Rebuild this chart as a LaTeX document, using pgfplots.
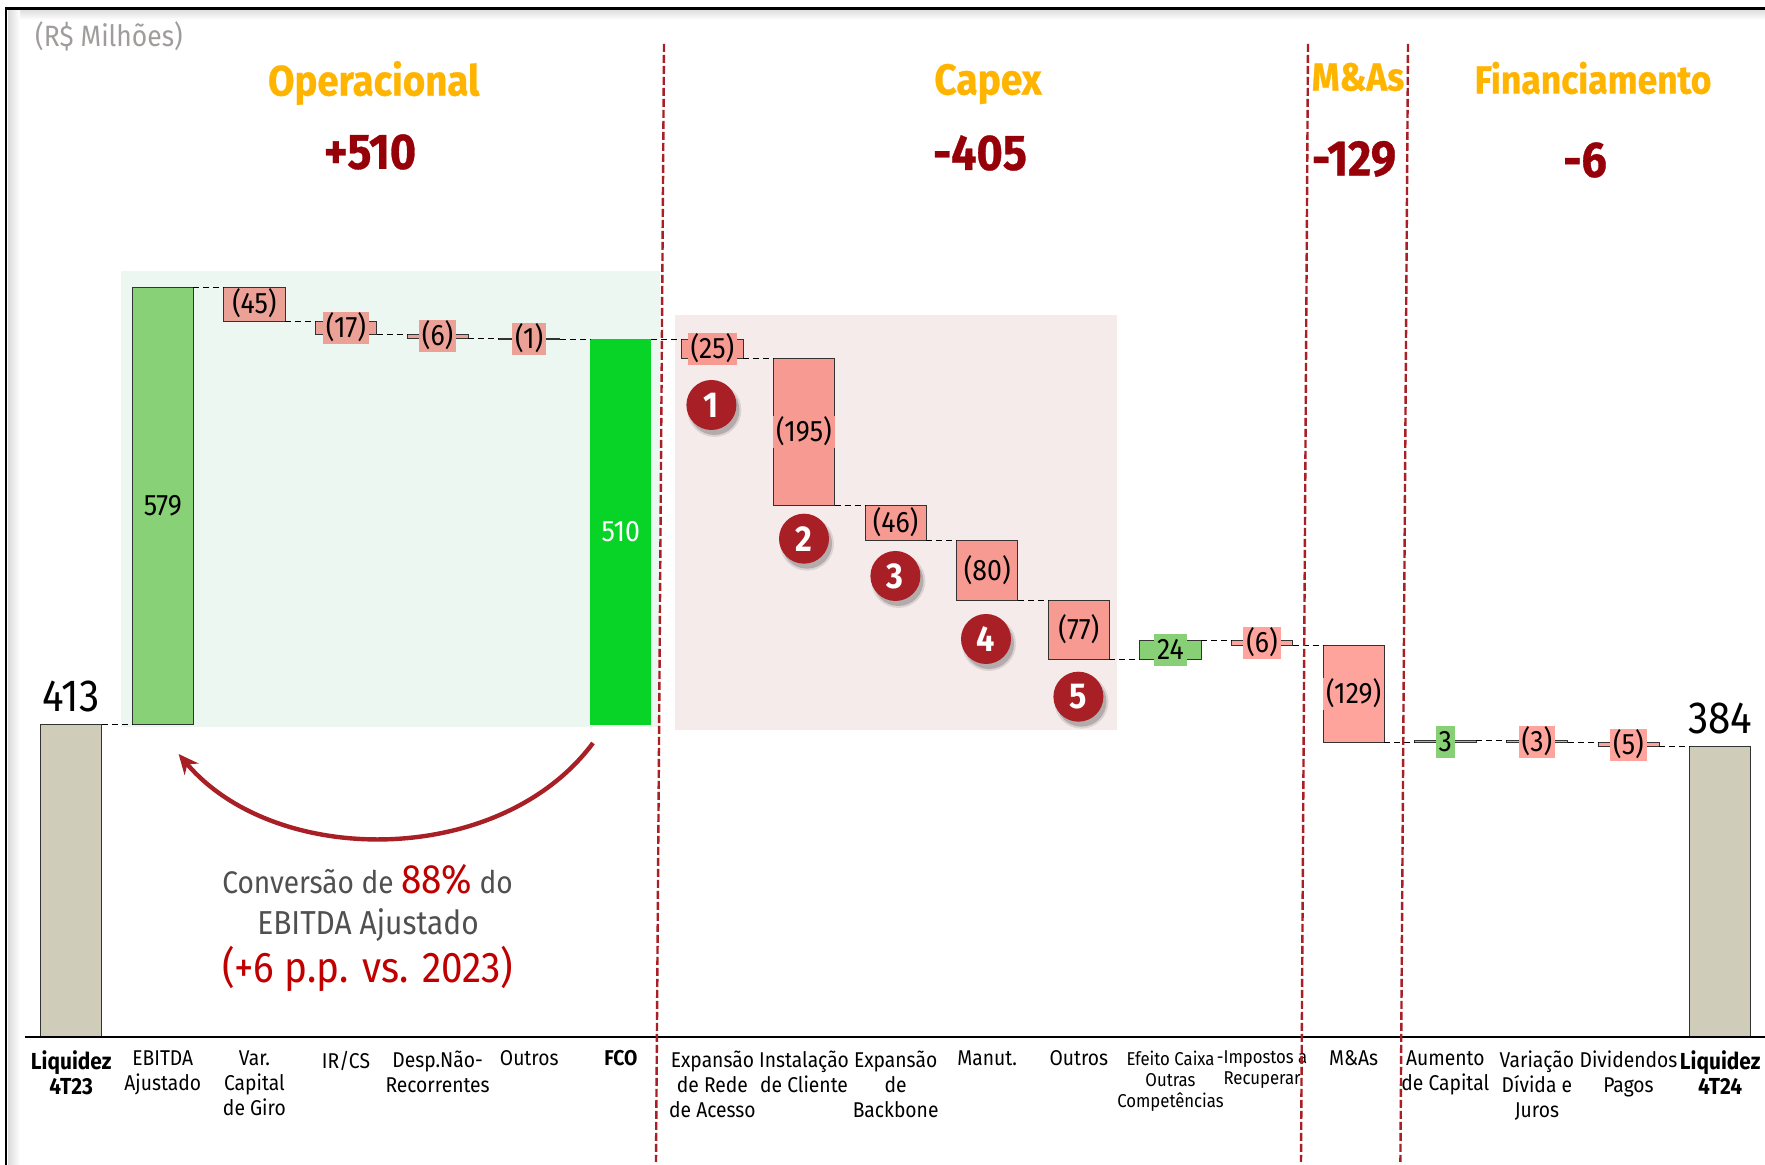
\documentclass[border=0pt]{standalone}
\usepackage{fontspec}
\setmainfont{Fira Sans}[FakeStretch=0.9]
\usepackage{pgfplots}
\usepackage{pgfplotstable}
\pgfplotsset{compat=1.18}
\usetikzlibrary{arrows.meta,shadings}
\definecolor{tan}{HTML}{CFCCBA}
\definecolor{lgreen}{HTML}{89D177}
\definecolor{fgreen}{HTML}{08D428}
\definecolor{salop}{HTML}{EBA195}
\definecolor{salcap}{HTML}{F79A92}
\definecolor{salpost}{HTML}{FFA49C}
\definecolor{dgreen}{HTML}{88D075}
\definecolor{bgg}{HTML}{EDF7F2}
\definecolor{bgp}{HTML}{F6EBEB}
\definecolor{arrowred}{HTML}{A91F26}
\definecolor{headorange}{HTML}{FFB400}
\definecolor{headred}{HTML}{960008}
\definecolor{textred}{HTML}{C00000}
\definecolor{greyt}{HTML}{A09C9C}
\definecolor{darkt}{HTML}{505050}
\newcommand{\liq}[1]{\fontsize{11.6}{13}\selectfont\bfseries #1}
\newcommand{\sm}[1]{\fontsize{9.3}{11}\selectfont #1}
\pgfplotsset{
  wfbase/.style={
    at={(12.5pt,64.15pt)},anchor=south west,scale only axis,
    width=870pt,height=508.35pt,
    xmin=-0.504,xmax=18.49,ymin=0,ymax=1346,clip=false},
  wfhide/.style={wfbase,hide axis,ybar stacked,bar width=30.6pt},
  barstyle/.style={fill=#1,draw=black!80,line width=0.4pt},
  vallab/.style={only marks,mark size=0pt,nodes near coords,point meta=explicit symbolic,
    every node near coord/.append style={anchor=center,fill=#1,text=black,
      font=\fontsize{14.8}{16}\selectfont,inner xsep=1.5pt,inner ysep=0pt,
      text height=12.7pt,text depth=3.3pt}},
}
\newcommand{\wfgroup}[3]{%
\begin{axis}[wfhide]
\addplot[draw=none,fill=none] coordinates {#2};
\addplot[#1] coordinates {#3};
\end{axis}}
\pgfplotstableread{
x y lab
2 969.5 (45)
3 938.5 (17)
4 927 (6)
5 923.5 (1)
}\labop
\pgfplotstableread{
x y lab
7 910.5 (25)
8 800.5 (195)
9 680 (46)
10 617 (80)
11 538.5 (77)
}\labcap
\pgfplotstableread{
x y lab
13 521 (6)
14 453.5 (129)
16 390.5 (3)
17 386.5 (5)
}\labpost
\pgfplotstableread{
x y lab
12 512 24
15 390.5 3
}\labgreen
\begin{document}
\begin{tikzpicture}
\useasboundingbox (0,0) rectangle (882.5pt,582.5pt);
\begin{scope}[x=0.5pt,y=-0.5pt,yshift=582.5pt]
  \fill[white] (0,0) rectangle (1765,1165);
  % frame soft shadow
  \shade[top color=black!14,bottom color=white] (8,9) rectangle (1765,20);
  \shade[left color=black!14,right color=white] (8,9) rectangle (20,1165);
  \fill[white] (20,20) rectangle (1765,1165);
  \draw[black,line width=1.4pt] (6,1165) -- (6,8.5) -- (1765,8.5);
  % backgrounds
  \fill[bgg] (121,271) rectangle (660,726.7);
  \fill[bgp] (675,315) rectangle (1117,730);
\end{scope}
\wfgroup{barstyle=tan}{(0,0)(18,0)}{(0,413)(18,384)}
\wfgroup{barstyle=lgreen}{(1,413)}{(1,579)}
\wfgroup{fill=fgreen,draw=none}{(6,413)}{(6,510)}
\wfgroup{barstyle=salop}{(2,947)(3,930)(4,924)(5,923)}{(2,45)(3,17)(4,6)(5,1)}
\wfgroup{barstyle=salcap}{(7,898)(8,703)(9,657)(10,577)(11,500)}{(7,25)(8,195)(9,46)(10,80)(11,77)}
\wfgroup{barstyle=dgreen}{(12,500)(15,389)}{(12,24)(15,3)}
\wfgroup{barstyle=salpost}{(13,518)(14,389)(16,389)(17,384)}{(13,6)(14,129)(16,3)(17,5)}
\begin{axis}[wfbase,
  axis x line*=bottom,axis y line=none,
  x axis line style={-,black,line width=1.1pt},
  major tick length=0pt,
  xtick={0,...,18},
  xticklabels={
    {\liq{Liquidez}\\\liq{4T23}},
    {EBITDA\\Ajustado},
    {Var.\\Capital\\de Giro},
    {IR/CS},
    {Desp.Não-\\Recorrentes},
    {Outros},
    {\bfseries FCO},
    {Expansão\\de Rede\\de Acesso},
    {Instalação\\de Cliente},
    {Expansão\\de\\Backbone},
    {Manut.},
    {Outros},
    {\sm{Efeito Caixa}\\[-2pt]\sm{Outras}\\[-2pt]\sm{Competências}},
    {\sm{-Impostos a}\\[-2pt]\sm{Recuperar}},
    {M\&As},
    {Aumento\\de Capital},
    {Variação\\Dívida e\\Juros},
    {Dividendos\\Pagos},
    {\liq{Liquidez}\\\liq{4T24}}},
  xticklabel style={align=center,anchor=north,yshift=-3.5pt,text=black,
     font=\fontsize{10.7}{12.5}\selectfont},
]
% connectors between the bars
\addplot[black,densely dashed,line width=0.4pt,unbounded coords=jump] coordinates {
 (0.334,413)(0.666,413)(0.8,nan)
 (1.334,992)(1.666,992)(1.8,nan)
 (2.334,947)(2.666,947)(2.8,nan)
 (3.334,930)(3.666,930)(3.8,nan)
 (4.334,924)(4.666,924)(4.8,nan)
 (5.334,923)(5.666,923)(5.8,nan)
 (6.334,923)(6.666,923)(6.8,nan)
 (7.334,898)(7.666,898)(7.8,nan)
 (8.334,703)(8.666,703)(8.8,nan)
 (9.334,657)(9.666,657)(9.8,nan)
 (10.334,577)(10.666,577)(10.8,nan)
 (11.334,500)(11.666,500)(11.8,nan)
 (12.334,524)(12.666,524)(12.8,nan)
 (13.334,518)(13.666,518)(13.8,nan)
 (14.334,389)(14.666,389)(14.8,nan)
 (15.334,392)(15.666,392)(15.8,nan)
 (16.334,389)(16.666,389)(16.8,nan)
 (17.334,384)(17.666,384)
};
\addplot[vallab=salop] table[x=x,y=y,meta=lab] {\labop};
\addplot[vallab=salcap] table[x=x,y=y,meta=lab] {\labcap};
\addplot[vallab=salpost] table[x=x,y=y,meta=lab] {\labpost};
\addplot[vallab=dgreen] table[x=x,y=y,meta=lab] {\labgreen};
\addplot[only marks,mark size=0pt,nodes near coords,point meta=explicit symbolic,
   every node near coord/.append style={anchor=center,text=black,font=\fontsize{14.8}{16}\selectfont}]
   table[meta=lab] {
x y lab
1 702.5 579
};
\addplot[only marks,mark size=0pt,nodes near coords,point meta=explicit symbolic,
   every node near coord/.append style={anchor=center,text=white,font=\fontsize{14.8}{16}\selectfont}]
   table[meta=lab] {
x y lab
6 668 510
};
\addplot[only marks,mark size=0pt,nodes near coords,point meta=explicit symbolic,
   every node near coord/.append style={anchor=south,text=black,yshift=4pt,inner sep=2pt,font=\fontsize{22.5}{24}\selectfont}]
   table[meta=lab] {
x y lab
0 413 413
18 384 384
};
\end{axis}
\begin{scope}[x=0.5pt,y=-0.5pt,yshift=582.5pt]
  % section separators
  \foreach \xa/\xb in {664/656,1308/1301,1408/1400.4}
    \draw[arrowred,line width=1.2pt,dash pattern=on 4pt off 1.5pt] (\xa,44) -- (\xb,1162);
  % headings
  \node[text=greyt,font=\fontsize{14.7}{16}\selectfont] at (109,36) {(R\$ Milhões)};
  \foreach \x/\y/\s/\t in {373.7/83/21.3/Operacional,988/84/21.6/Capex,1358/77/19.6/M\&As,1593/78/19.7/Financiamento}
    \node[text=headorange,font=\fontsize{\s}{\s}\selectfont\bfseries\addfontfeature{FakeBold=0.6}] at (\x,\y) {\t};
  \foreach \x/\y/\t in {370/152/+510,980/153/-405,1354/159/-129,1585/160/-6}
    \node[text=headred,font=\fontsize{25}{27}\selectfont\bfseries\addfontfeature{FakeBold=0.6}] at (\x,\y) {\t};
  % numbered circles
  \foreach \x/\y/\n in {711.4/405/1,804/538.7/2,895.4/576/3,986/639/4,1078.4/696.7/5}{
    \fill[black,opacity=.10] (\x+3,\y+5) circle (27);
    \fill[black,opacity=.18] (\x+3,\y+5) circle (25);
    \fill[arrowred] (\x,\y) circle (25);
    \node[text=white,font=\fontsize{18}{19}\selectfont\bfseries] at (\x,\y) {\n};
  }
  % conversion arrow
  \draw[arrowred,line width=2.2pt,-{Stealth[length=10pt,width=9pt]}]
     (593,743) .. controls (500,868) and (275,868) .. (178.6,754);
  \node[text=darkt,font=\fontsize{15.6}{17}\selectfont] at (367.6,880)
     {Conversão de {\color{textred}\fontsize{20.5}{21}\selectfont 88\%} do};
  \node[text=darkt,font=\fontsize{16.6}{18}\selectfont] at (368,925) {EBITDA Ajustado};
  \node[text=textred,font=\fontsize{21.5}{23}\selectfont] at (367.6,969) {(+6 p.p. vs. 2023)};
\end{scope}
\end{tikzpicture}
\end{document}
